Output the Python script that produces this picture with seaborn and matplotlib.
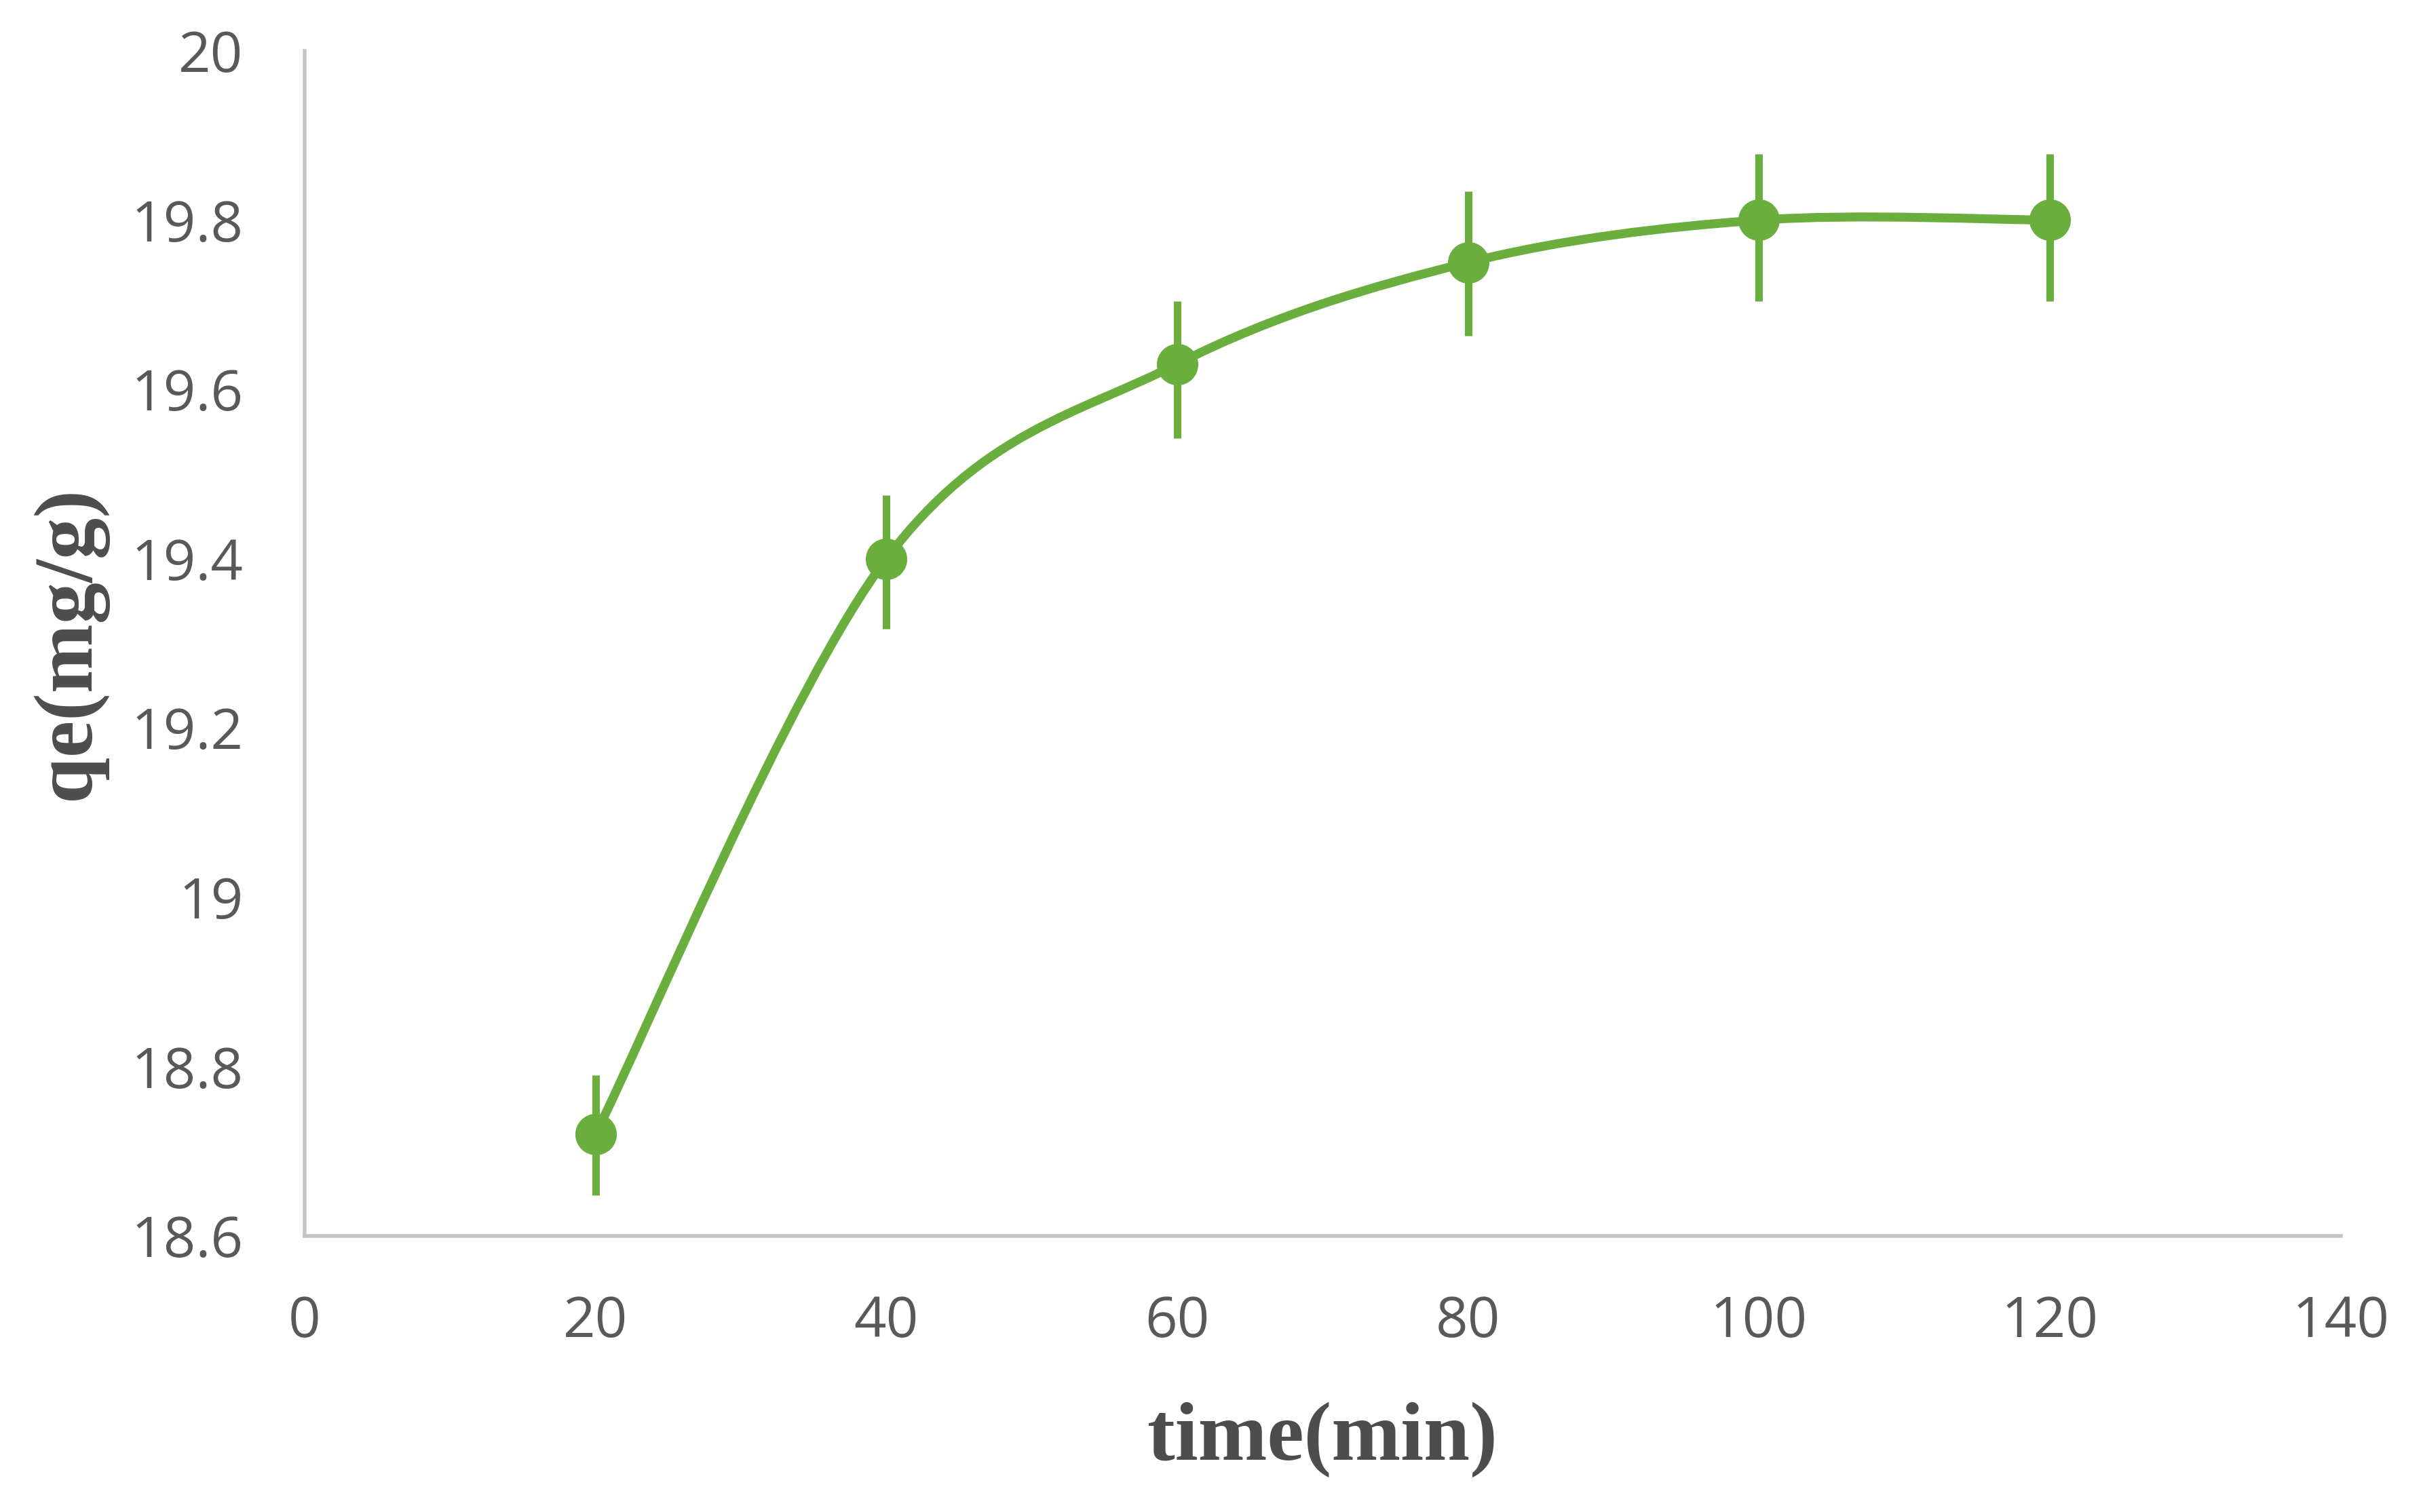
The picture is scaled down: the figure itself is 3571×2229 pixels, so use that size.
import numpy as np
import pandas as pd
import matplotlib as mpl
import matplotlib.pyplot as plt
from matplotlib.path import Path
from matplotlib.patches import PathPatch
import seaborn as sns

mpl.use("Agg")

# data
time_min = [20, 40, 60, 80, 100, 120]
qe = [18.72, 19.40, 19.63, 19.75, 19.80, 19.80]
err_low = [0.072, 0.083, 0.088, 0.087, 0.096, 0.096]
err_high = [0.070, 0.075, 0.074, 0.084, 0.078, 0.078]
x_ticks = [0, 20, 40, 60, 80, 100, 120, 140]
y_ticks = [18.6, 18.8, 19.0, 19.2, 19.4, 19.6, 19.8, 20.0]
y_tick_labels = ["18.6", "18.8", "19", "19.2", "19.4", "19.6", "19.8", "20"]


def smooth_path(xs, ys):
    # excel style smoothed line: bezier segments, control points from neighbours
    pts = np.column_stack([xs, ys]).astype(float)
    padded = np.vstack([pts[0], pts, pts[-1]])
    verts = [pts[0]]
    codes = [Path.MOVETO]
    for i in range(len(pts) - 1):
        p0, p1, p2, p3 = padded[i], padded[i + 1], padded[i + 2], padded[i + 3]
        verts += [p1 + (p2 - p0) / 6, p2 - (p3 - p1) / 6, p2]
        codes += [Path.CURVE4] * 3
    return Path(verts, codes)


if __name__ == "__main__":
    sns.set_theme(style="white")
    plt.rcParams["font.family"] = ["Open Sans", "DejaVu Sans"]

    df = pd.DataFrame({"time": time_min, "qe": qe})
    green = "#6aae3e"

    fig = plt.figure(figsize=(35.71, 22.29), dpi=100)
    ax = fig.add_axes([0.1257, 0.1826, 0.8404, 0.7838])

    ax.add_patch(
        PathPatch(
            smooth_path(time_min, qe),
            facecolor="none",
            edgecolor=green,
            lw=9.5,
            capstyle="round",
            zorder=2,
        )
    )
    ax.errorbar(
        time_min,
        qe,
        yerr=[err_low, err_high],
        fmt="none",
        ecolor=green,
        elinewidth=8,
        capsize=0,
        zorder=3,
    )
    sns.scatterplot(
        data=df,
        x="time",
        y="qe",
        color=green,
        s=44**2,
        linewidth=0,
        legend=False,
        zorder=4,
        ax=ax,
    )

    ax.set_xlim(0, 140)
    ax.set_ylim(18.6, 20)
    ax.set_xticks(x_ticks)
    ax.set_xticklabels([str(t) for t in x_ticks])
    ax.set_yticks(y_ticks)
    ax.set_yticklabels(y_tick_labels)

    sns.despine(ax=ax)
    for side in ["left", "bottom"]:
        ax.spines[side].set_color("#c4c4c4")
        ax.spines[side].set_linewidth(4)

    ax.tick_params(length=0, labelsize=60, labelcolor="#595959")
    ax.tick_params(axis="x", pad=62)
    ax.tick_params(axis="y", pad=65)

    label_kw = dict(family="Liberation Serif", fontweight="bold", fontsize=88, color="#4d4d4d")
    ax.set_xlabel("time(min)", **label_kw)
    ax.set_ylabel("qe(mg/g)", **label_kw)
    ax.xaxis.set_label_coords(0.5, -0.14)
    ax.yaxis.set_label_coords(-0.097, 0.5)

    fig.savefig("out.png", dpi=100)
